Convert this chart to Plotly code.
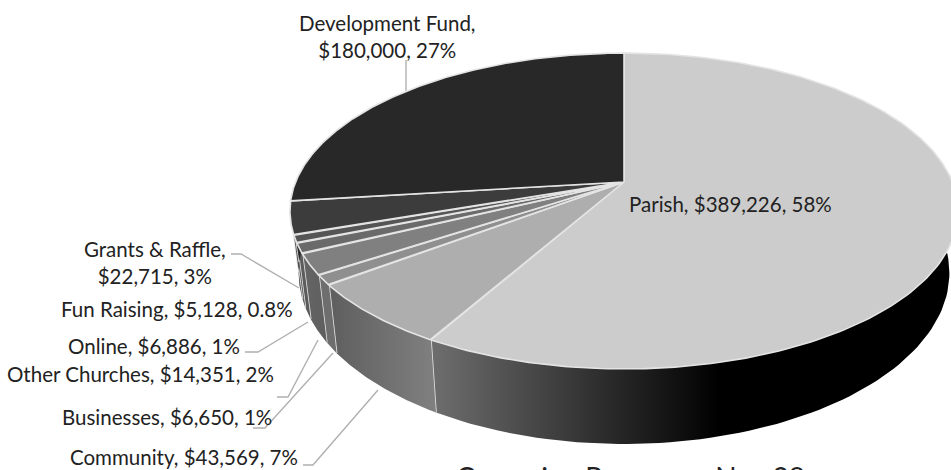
import numpy as np
import plotly.graph_objects as go

categories = ["Parish", "Community", "Businesses", "Other Churches", "Online",
              "Fun Raising", "Grants & Raffle", "Development Fund"]
values = [389226, 43569, 6650, 14351, 6886, 5128, 22715, 180000]
top_colors = ["#cccccc", "#aeaeae", "#8f8f8f", "#808080", "#6a6a6a", "#555555", "#3c3c3c", "#282828"]
side_left = ["#6c6c6c", "#808080", "#6e6e6e", "#5e5e5e", "#5a5a5a", "#606060", "#505050", "#282828"]
side_right = ["#000000", "#5e5e5e", "#6e6e6e", "#666666", "#5e5e5e", "#505050", "#585858", "#282828"]
labels = ["Parish, $389,226, 58%", "Community, $43,569, 7%", "Businesses, $6,650, 1%",
          "Other Churches, $14,351, 2%", "Online, $6,886, 1%", "Fun Raising, $5,128, 0.8%",
          "Grants & Raffle,<br>$22,715, 3%", "Development Fund,<br>$180,000, 27%"]
title_text = "Campaign Progress - Nov 28"

CX, CY, A, B, K = 624, 182, 328.4, 152.6, 0.1837
LINE = "#e4e4e4"


def project(theta):
    u, v = np.sin(theta), -np.cos(theta)
    w = 1 - K * v
    return CX + A * u / w, CY + B * v / w


def lower(x, y):
    return CX + 0.974 * (x - CX), y + 75 - 0.083 * (369 - y)


total = sum(values)
edges = np.cumsum([0] + values) / total * 2 * np.pi
fig = go.Figure()

# side wall (only the near half is visible)
for i in range(len(values)):
    a, b = edges[i], edges[i + 1]
    a2, b2 = max(a, np.pi / 2), min(b, 3 * np.pi / 2)
    if b2 <= a2:
        continue
    t = np.linspace(a2, b2, 80)
    x, y = project(t)
    xl, yl = lower(x, y)
    px, py = np.r_[x, xl[::-1], x[0]], np.r_[y, yl[::-1], y[0]]
    grad = dict(type="horizontal", colorscale=[[0, side_left[i]], [1, side_right[i]]])
    if i == 0:
        grad.update(start=437, stop=720)
    else:
        grad["colorscale"] = [[0, side_right[i]], [1, side_left[i]]]
    fig.add_trace(go.Scatter(x=px, y=py, mode="lines", fill="toself", line=dict(width=0),
                             fillgradient=grad, hoverinfo="skip"))
    if b < 3 * np.pi / 2:
        ex, ey = project(np.array([b]))
        lx, ly = lower(ex, ey)
        fig.add_trace(go.Scatter(x=[ex[0], lx[0]], y=[ey[0], ly[0]], mode="lines",
                                 line=dict(color=LINE, width=1.6), hoverinfo="skip"))

# top face
for i in range(len(values)):
    t = np.linspace(edges[i], edges[i + 1], 200)
    x, y = project(t)
    fig.add_trace(go.Scatter(x=np.r_[CX, x, CX], y=np.r_[CY, y, CY], mode="lines", fill="toself",
                             fillcolor=top_colors[i], line=dict(color=LINE, width=1.6),
                             hoverinfo="skip"))

shapes = [dict(type="path", path=p, xref="x", yref="y", line=dict(color="#b0b0b0", width=1.4), layer="below")
          for p in ["M 406 92 L 406 60", "M 299 288 L 241 254 L 231 254",
                    "M 308 322 L 258 352 L 245 352", "M 318 340 L 288 397 L 277 397",
                    "M 333 353 L 265 428 L 253 428", "M 378 390 L 313 465 L 303 465"]]

# x, y, xanchor for each label, in label order
label_x = [627, 300, 274, 276, 242, 295, 155, 387]
label_y = [204, 457, 417, 374, 346, 309, 262, 36]
label_anchor = ["left", "right", "right", "right", "right", "right", "center", "center"]
annotations = [dict(x=x, y=y, xref="x", yref="y", text=txt, showarrow=False, align="center",
                    xanchor=an, yanchor="middle",
                    font=dict(family="Lato", size=20.5, color="#222222"))
               for x, y, txt, an in zip(label_x, label_y, labels, label_anchor)]
annotations.append(dict(x=630, y=458, xref="x", yref="y", text=title_text, showarrow=False,
                        xanchor="center", yanchor="top",
                        font=dict(family="Lato", size=28, color="#222222")))

fig.update_layout(
    width=951, height=470, margin=dict(l=0, r=0, t=0, b=0), showlegend=False,
    paper_bgcolor="white", plot_bgcolor="white", shapes=shapes, annotations=annotations,
    xaxis=dict(range=[0, 951], visible=False, fixedrange=True),
    yaxis=dict(range=[470, 0], visible=False, fixedrange=True),
)
fig.write_html("out.html", config={"displayModeBar": False},
               post_script="document.body.style.margin='0';")
